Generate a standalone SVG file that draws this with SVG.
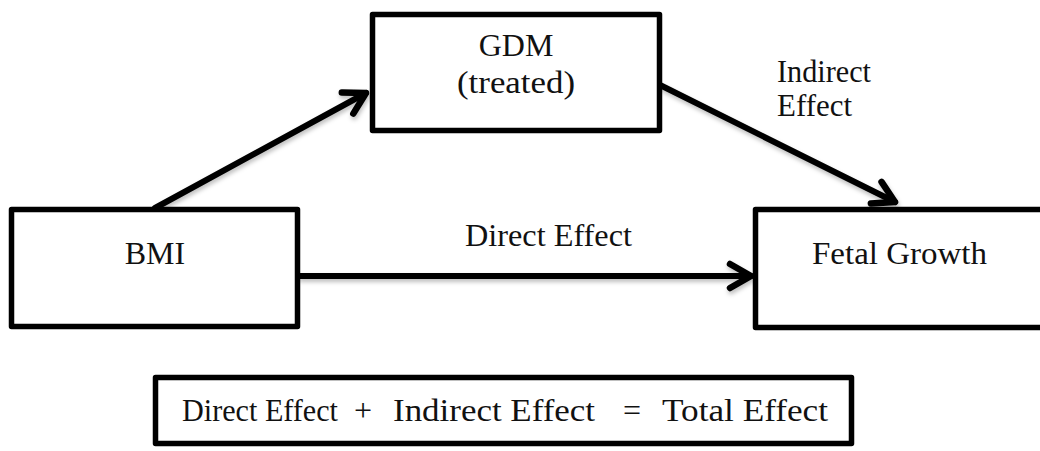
<svg xmlns="http://www.w3.org/2000/svg" width="1040" height="451" viewBox="0 0 1040 451">
  <style>
    .box { fill: #ffffff; stroke: #000000; stroke-width: 5.5; stroke-linejoin: round; }
    .lbl { font-family: "Liberation Serif", "Times New Roman", serif; font-size: 32px; fill: #111111; }
    .mid { text-anchor: middle; }
    .conn { stroke: #000000; stroke-width: 6; fill: none; stroke-linecap: round; }
  </style>
  <defs>
    <marker id="chev" markerUnits="userSpaceOnUse" viewBox="-26 -16 32 32" refX="0" refY="0" markerWidth="32" markerHeight="32" orient="auto" overflow="visible">
      <path d="M-21,-12 L0,0 L-21,12" fill="none" stroke="#000000" stroke-width="6.5" stroke-linecap="round" stroke-linejoin="round"/>
    </marker>
    <filter id="sh" x="-10%" y="-10%" width="120%" height="140%">
      <feDropShadow dx="1" dy="3" stdDeviation="2" flood-color="#000000" flood-opacity="0.25"/>
    </filter>
  </defs>
  <rect width="1040" height="451" fill="#ffffff"/>

  <g id="connectors" filter="url(#sh)">
    <line class="conn" x1="155" y1="208" x2="366" y2="93" marker-end="url(#chev)"/>
    <line class="conn" x1="660" y1="85" x2="895" y2="202" marker-end="url(#chev)"/>
    <line class="conn" x1="300" y1="276" x2="751" y2="276" marker-end="url(#chev)"/>
  </g>

  <g id="node-gdm">
    <rect class="box" x="372.5" y="14.5" width="287" height="116"/>
    <text class="lbl mid" x="516" y="56">GDM</text>
    <text class="lbl mid" x="516" y="93" textLength="118" lengthAdjust="spacingAndGlyphs">(treated)</text>
  </g>

  <g id="node-bmi">
    <rect class="box" x="11.5" y="209.5" width="286" height="117"/>
    <text class="lbl mid" x="155" y="264">BMI</text>
  </g>

  <g id="node-fetal">
    <rect class="box" x="755.5" y="209.5" width="300" height="118"/>
    <text class="lbl" x="812" y="264" textLength="175" lengthAdjust="spacingAndGlyphs">Fetal Growth</text>
  </g>

  <g id="label-indirect">
    <text class="lbl" x="777" y="82" textLength="94" lengthAdjust="spacingAndGlyphs">Indirect</text>
    <text class="lbl" x="777" y="116" textLength="75" lengthAdjust="spacingAndGlyphs">Effect</text>
  </g>

  <g id="label-direct">
    <text class="lbl" x="465" y="246" textLength="167" lengthAdjust="spacingAndGlyphs">Direct Effect</text>
  </g>

  <g id="node-total">
    <rect class="box" x="155.5" y="377.5" width="696" height="66"/>
    <text class="lbl" x="182" y="421" textLength="156" lengthAdjust="spacingAndGlyphs">Direct Effect</text>
    <text class="lbl mid" x="363" y="421">+</text>
    <text class="lbl" x="393" y="421" textLength="202" lengthAdjust="spacingAndGlyphs">Indirect Effect</text>
    <text class="lbl mid" x="632" y="421">=</text>
    <text class="lbl" x="662" y="421" textLength="166" lengthAdjust="spacingAndGlyphs">Total Effect</text>
  </g>
</svg>
